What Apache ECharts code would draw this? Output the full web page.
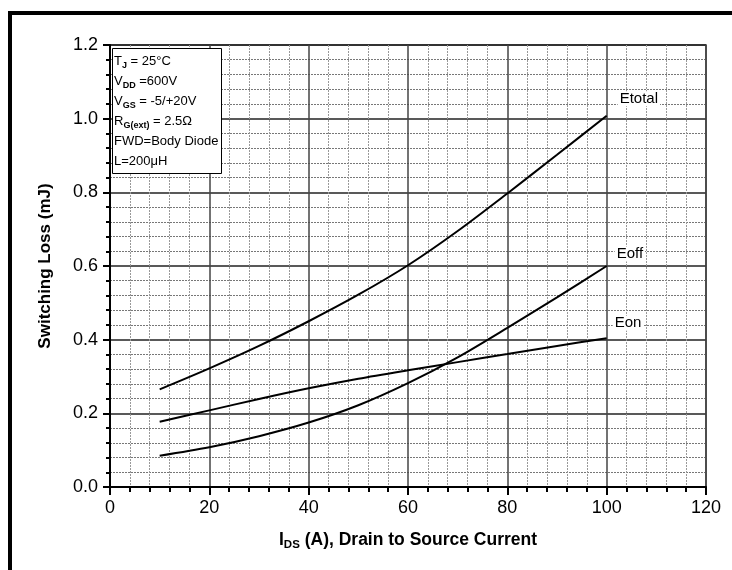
<!DOCTYPE html>
<html>
<head>
<meta charset="utf-8">
<script src="https://cdn.jsdelivr.net/npm/echarts@6/dist/echarts.min.js"></script>
<style>
html,body{margin:0;padding:0;background:#fff;}
#chart{width:732px;height:570px;}
</style>
</head>
<body>
<div id="chart"></div>
<script>
// Data
const currents = [10, 20, 30, 40, 50, 60, 70, 80, 90, 100];
const eTotal = [0.265, 0.322, 0.383, 0.450, 0.522, 0.602, 0.695, 0.797, 0.902, 1.008];
const eOff   = [0.085, 0.108, 0.138, 0.175, 0.222, 0.282, 0.352, 0.432, 0.515, 0.600];
const eOn    = [0.177, 0.208, 0.239, 0.268, 0.294, 0.317, 0.339, 0.361, 0.383, 0.404];
const seriesNames = ['Etotal', 'Eoff', 'Eon'];
const xTicks = [0, 20, 40, 60, 80, 100, 120];
const yTicks = [0.0, 0.2, 0.4, 0.6, 0.8, 1.0, 1.2];
const infoLines = [
  ['T', 'J', ' = 25°C'],
  ['V', 'DD', ' =600V'],
  ['V', 'GS', ' = -5/+20V'],
  ['R', 'G(ext)', ' = 2.5Ω'],
  ['FWD=Body Diode', '', ''],
  ['L=200μH', '', '']
];

const FONT = "'Liberation Sans', Arial, sans-serif";
const pairs = arr => currents.map((x, i) => [x, arr[i]]);

const infoText = infoLines.map(l => {
  let s = '{n|' + l[0] + '}';
  if (l[1]) s += '{s|' + l[1] + '}';
  if (l[2]) s += '{n|' + l[2] + '}';
  return s;
}).join('\n');

const chart = echarts.init(document.getElementById('chart'));

function mkSeries(name, data, offset) {
  return {
    name: name,
    type: 'line',
    data: pairs(data),
    smooth: 0.3,
    symbol: 'none',
    lineStyle: { color: '#000', width: 2 },
    endLabel: {
      show: true,
      formatter: name,
      distance: 0,
      offset: offset,
      align: 'left',
      verticalAlign: 'middle',
      color: '#000',
      fontFamily: FONT,
      fontSize: 15,
      backgroundColor: '#fff',
      padding: [0, 2]
    },
    z: 5
  };
}

chart.setOption({
  animation: false,
  backgroundColor: '#fff',
  textStyle: { fontFamily: FONT },
  title: {
    text: infoText,
    left: 112,
    top: 48,
    padding: [3, 3, 3, 2],
    backgroundColor: '#fff',
    borderColor: '#000',
    borderWidth: 1,
    z: 10,
    textStyle: {
      fontFamily: FONT,
      fontWeight: 'normal',
      fontSize: 13,
      lineHeight: 20,
      color: '#000',
      rich: {
        n: { fontSize: 13, fontFamily: FONT, color: '#000', lineHeight: 20 },
        s: { fontSize: 9, fontFamily: FONT, fontWeight: 'bold', color: '#000', lineHeight: 20, padding: [9, 0, 0, 0] }
      }
    }
  },
  graphic: [
    { type: 'rect', shape: { x: 8, y: 11, width: 724, height: 4 }, style: { fill: '#000' } },
    { type: 'rect', shape: { x: 8, y: 11, width: 4, height: 559 }, style: { fill: '#000' } }
  ],
  grid: {
    left: 110, right: 26, top: 45, bottom: 83,
    show: true, borderColor: '#333', borderWidth: 1.5, backgroundColor: 'transparent'
  },
  xAxis: {
    type: 'value',
    min: xTicks[0], max: xTicks[xTicks.length - 1], interval: 20,
    name: '{b|I}{bs|DS}{b| (A), Drain to Source Current}',
    nameLocation: 'middle',
    nameGap: 42,
    nameTextStyle: {
      rich: {
        b: { fontFamily: FONT, fontWeight: 'bold', fontSize: 17.5, color: '#000', lineHeight: 22 },
        bs: { fontFamily: FONT, fontWeight: 'bold', fontSize: 11.5, color: '#000', lineHeight: 22, padding: [10, 0, 0, 0] }
      }
    },
    axisLine: { show: true, lineStyle: { color: '#000', width: 2 } },
    axisTick: { show: true, length: 8, lineStyle: { color: '#000', width: 2 } },
    minorTick: { show: true, splitNumber: 5, length: 5, lineStyle: { color: '#000', width: 2 } },
    axisLabel: { color: '#000', fontSize: 18, fontFamily: FONT, margin: 12 },
    splitLine: { show: true, lineStyle: { color: '#444', width: 1.5 } },
    minorSplitLine: { show: true, lineStyle: { color: '#999', width: 1, type: [2, 1] } }
  },
  yAxis: {
    type: 'value',
    min: yTicks[0], max: yTicks[yTicks.length - 1], interval: 0.2,
    name: 'Switching Loss (mJ)',
    nameLocation: 'middle',
    nameGap: 56,
    nameTextStyle: { fontFamily: FONT, fontWeight: 'bold', fontSize: 17, color: '#000' },
    axisLine: { show: true, lineStyle: { color: '#000', width: 2 } },
    axisTick: { show: true, length: 7, lineStyle: { color: '#000', width: 2 } },
    minorTick: { show: true, splitNumber: 5, length: 4, lineStyle: { color: '#000', width: 2 } },
    axisLabel: { color: '#000', fontSize: 18, fontFamily: FONT, margin: 12, formatter: v => v.toFixed(1) },
    splitLine: { show: true, lineStyle: { color: '#222', width: 1.5 } },
    minorSplitLine: { show: true, lineStyle: { color: '#777', width: 1, type: [2, 1] } }
  },
  series: [
    mkSeries(seriesNames[0], eTotal, [11, -17]),
    mkSeries(seriesNames[1], eOff, [8, -12]),
    mkSeries(seriesNames[2], eOn, [6, -15])
  ]
});
</script>
</body>
</html>
